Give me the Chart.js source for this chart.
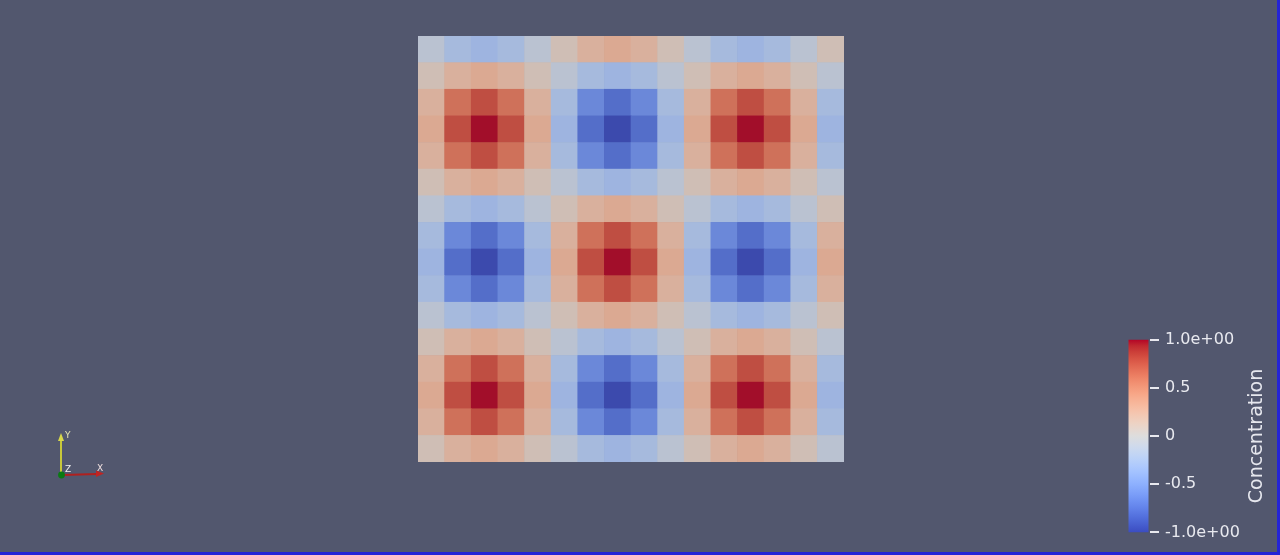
<!DOCTYPE html>
<html><head><meta charset="utf-8">
<script src="https://cdn.jsdelivr.net/npm/chart.js@4.4.1/dist/chart.umd.min.js"></script>
<style>
html,body{margin:0;padding:0;width:1280px;height:555px;overflow:hidden;background:#52576e;}
.box{position:absolute;}
#frameR{position:absolute;left:1277px;top:0;width:3px;height:555px;background:#2424d6;}
#frameB{position:absolute;left:0;top:552px;width:1280px;height:3px;background:#2424d6;}
</style></head>
<body>
<div class="box" style="left:418px;top:36px;width:426px;height:426px"><canvas id="heat"></canvas></div>
<div class="box" style="left:1100px;top:324px;width:176px;height:224px"><canvas id="cbar"></canvas></div>
<canvas id="triad" class="box" width="80" height="70" style="left:40px;top:420px"></canvas>
<div id="frameR"></div><div id="frameB"></div>
<script>
// ---------- data ----------
const columns = ['0','1','2','3','4','5','6','7','8','9','10','11','12','13','14','15'];
const rowLabels = ['0','1','2','3','4','5','6','7','8','9','10','11','12','13','14','15']; // row 0 = top
const concentration = [
  [-0.10,-0.25,-0.31,-0.25,-0.10, 0.10, 0.25, 0.31, 0.25, 0.10,-0.10,-0.25,-0.31,-0.25,-0.10, 0.10],
  [ 0.10, 0.25, 0.31, 0.25, 0.10,-0.10,-0.25,-0.31,-0.25,-0.10, 0.10, 0.25, 0.31, 0.25, 0.10,-0.10],
  [ 0.25, 0.65, 0.81, 0.65, 0.25,-0.25,-0.65,-0.81,-0.65,-0.25, 0.25, 0.65, 0.81, 0.65, 0.25,-0.25],
  [ 0.31, 0.81, 1.00, 0.81, 0.31,-0.31,-0.81,-1.00,-0.81,-0.31, 0.31, 0.81, 1.00, 0.81, 0.31,-0.31],
  [ 0.25, 0.65, 0.81, 0.65, 0.25,-0.25,-0.65,-0.81,-0.65,-0.25, 0.25, 0.65, 0.81, 0.65, 0.25,-0.25],
  [ 0.10, 0.25, 0.31, 0.25, 0.10,-0.10,-0.25,-0.31,-0.25,-0.10, 0.10, 0.25, 0.31, 0.25, 0.10,-0.10],
  [-0.10,-0.25,-0.31,-0.25,-0.10, 0.10, 0.25, 0.31, 0.25, 0.10,-0.10,-0.25,-0.31,-0.25,-0.10, 0.10],
  [-0.25,-0.65,-0.81,-0.65,-0.25, 0.25, 0.65, 0.81, 0.65, 0.25,-0.25,-0.65,-0.81,-0.65,-0.25, 0.25],
  [-0.31,-0.81,-1.00,-0.81,-0.31, 0.31, 0.81, 1.00, 0.81, 0.31,-0.31,-0.81,-1.00,-0.81,-0.31, 0.31],
  [-0.25,-0.65,-0.81,-0.65,-0.25, 0.25, 0.65, 0.81, 0.65, 0.25,-0.25,-0.65,-0.81,-0.65,-0.25, 0.25],
  [-0.10,-0.25,-0.31,-0.25,-0.10, 0.10, 0.25, 0.31, 0.25, 0.10,-0.10,-0.25,-0.31,-0.25,-0.10, 0.10],
  [ 0.10, 0.25, 0.31, 0.25, 0.10,-0.10,-0.25,-0.31,-0.25,-0.10, 0.10, 0.25, 0.31, 0.25, 0.10,-0.10],
  [ 0.25, 0.65, 0.81, 0.65, 0.25,-0.25,-0.65,-0.81,-0.65,-0.25, 0.25, 0.65, 0.81, 0.65, 0.25,-0.25],
  [ 0.31, 0.81, 1.00, 0.81, 0.31,-0.31,-0.81,-1.00,-0.81,-0.31, 0.31, 0.81, 1.00, 0.81, 0.31,-0.31],
  [ 0.25, 0.65, 0.81, 0.65, 0.25,-0.25,-0.65,-0.81,-0.65,-0.25, 0.25, 0.65, 0.81, 0.65, 0.25,-0.25],
  [ 0.10, 0.25, 0.31, 0.25, 0.10,-0.10,-0.25,-0.31,-0.25,-0.10, 0.10, 0.25, 0.31, 0.25, 0.10,-0.10]
];
const colorbarTitle = 'Concentration';
const colorbarTicks = [-1, -0.5, 0, 0.5, 1];
const colorbarTickLabels = ['-1.0e+00', '-0.5', '0', '0.5', '1.0e+00'];
const valueRange = [-1, 1];

// ---------- colour map (ParaView "Cool to Warm") ----------
const coolWarm = [
 [59,76,192],[68,90,204],[77,104,215],[87,117,225],[98,130,234],[108,142,241],[119,154,247],[130,165,251],
 [141,176,254],[152,185,255],[163,194,255],[174,201,253],[184,208,249],[194,213,244],[204,217,238],[213,219,230],
 [221,221,221],[229,216,209],[236,211,197],[241,204,185],[245,196,173],[247,187,160],[247,177,148],[247,166,135],
 [244,154,123],[241,141,111],[236,127,99],[229,112,88],[222,96,77],[213,80,66],[203,62,56],[192,40,47],[180,4,38]
];
function mapColor(v, shade, grey) {
  let t = (v - valueRange[0]) / (valueRange[1] - valueRange[0]);
  t = Math.max(0, Math.min(1, t)) * (coolWarm.length - 1);
  const i = Math.min(Math.floor(t), coolWarm.length - 2), f = t - i;
  const c = coolWarm[i].map((a, k) => {
    const x = (a + (coolWarm[i + 1][k] - a) * f) * shade;
    return Math.round(x + (170 - x) * grey);
  });
  return `rgb(${c[0]},${c[1]},${c[2]})`;
}

// ---------- heat map (stacked unit bars, one dataset per row) ----------
const heatDatasets = rowLabels.slice().reverse().map((lab) => {
  const row = concentration[+lab];
  return {
    label: 'row ' + lab,
    data: columns.map(() => 1),
    backgroundColor: row.map(v => mapColor(v, 0.9, 0.06)),
    borderWidth: 0,
    barPercentage: 1,
    categoryPercentage: 1,
    stack: 'grid'
  };
});
new Chart(document.getElementById('heat'), {
  type: 'bar',
  data: { labels: columns, datasets: heatDatasets },
  options: {
    responsive: true, maintainAspectRatio: false, animation: false, events: [],
    layout: { padding: 0 },
    plugins: { legend: { display: false }, tooltip: { enabled: false } },
    scales: {
      x: { display: false, stacked: true, offset: true },
      y: { display: false, stacked: true, min: 0, max: rowLabels.length }
    }
  }
});

// ---------- colour bar ----------
const titlePlugin = {
  id: 'cbTitle',
  afterDraw(chart) {
    const ctx = chart.ctx, a = chart.chartArea;
    ctx.save();
    ctx.translate(157, (a.top + a.bottom) / 2);
    ctx.rotate(-Math.PI / 2);
    ctx.fillStyle = '#e6e7ee';
    ctx.font = '19px "DejaVu Sans"';
    ctx.textAlign = 'center';
    ctx.textBaseline = 'middle';
    ctx.fillText(colorbarTitle, 0, 0);
    ctx.restore();
  }
};
new Chart(document.getElementById('cbar'), {
  type: 'bar',
  data: {
    labels: [colorbarTitle],
    datasets: [{
      data: [valueRange],
      borderWidth: 0,
      barPercentage: 20 / 23,
      categoryPercentage: 1,
      backgroundColor: (c) => {
        const ch = c.chart; if (!ch.chartArea) return 'rgba(0,0,0,0)';
        const ys = ch.scales.y;
        const g = ch.ctx.createLinearGradient(0, ys.getPixelForValue(valueRange[0]), 0, ys.getPixelForValue(valueRange[1]));
        coolWarm.forEach((col, i) => g.addColorStop(i / (coolWarm.length - 1), `rgb(${col[0]},${col[1]},${col[2]})`));
        return g;
      }
    }]
  },
  options: {
    responsive: true, maintainAspectRatio: false, animation: false, events: [],
    layout: { padding: { top: 12, bottom: 12, left: 27, right: 0 } },
    plugins: { legend: { display: false }, tooltip: { enabled: false } },
    scales: {
      x: { display: false },
      y: {
        position: 'right', min: valueRange[0], max: valueRange[1],
        afterFit: (s) => { s.width = 126; },
        afterBuildTicks: (s) => { s.ticks = colorbarTicks.map(v => ({ value: v })); },
        border: { display: false },
        grid: { drawOnChartArea: false, drawTicks: true, tickLength: 9, color: '#e8e8ee', lineWidth: 2 },
        ticks: {
          padding: 6, color: '#e8e9ef', font: { family: 'DejaVu Sans', size: 16 },
          callback: (v) => colorbarTickLabels[colorbarTicks.indexOf(v)]
        }
      }
    }
  },
  plugins: [titlePlugin]
});

// ---------- orientation axes ----------
(function () {
  const c = document.getElementById('triad').getContext('2d');
  c.lineCap = 'round';
  c.strokeStyle = '#c8c83a'; c.lineWidth = 2;
  c.beginPath(); c.moveTo(21, 54); c.lineTo(21, 19); c.stroke();
  c.fillStyle = '#d8d84a';
  c.beginPath(); c.moveTo(21, 13); c.lineTo(18, 21); c.lineTo(24, 21); c.closePath(); c.fill();
  c.strokeStyle = '#b0201e'; c.lineWidth = 2.2;
  c.beginPath(); c.moveTo(23, 55); c.lineTo(57, 54); c.stroke();
  c.fillStyle = '#c02422';
  c.beginPath(); c.moveTo(64, 53.5); c.lineTo(56, 50.5); c.lineTo(56, 57); c.closePath(); c.fill();
  c.fillStyle = '#0a7a12';
  c.beginPath(); c.arc(21.5, 55, 3.4, 0, Math.PI * 2); c.fill();
  c.font = '9px "DejaVu Sans"';
  c.textBaseline = 'middle';
  c.fillStyle = '#e6e6b0'; c.fillText('Y', 25, 16);
  c.fillStyle = '#f0f0f0'; c.fillText('Z', 25, 50);
  c.fillStyle = '#f0e0e0'; c.fillText('X', 57, 49);
})();
</script>
</body></html>
